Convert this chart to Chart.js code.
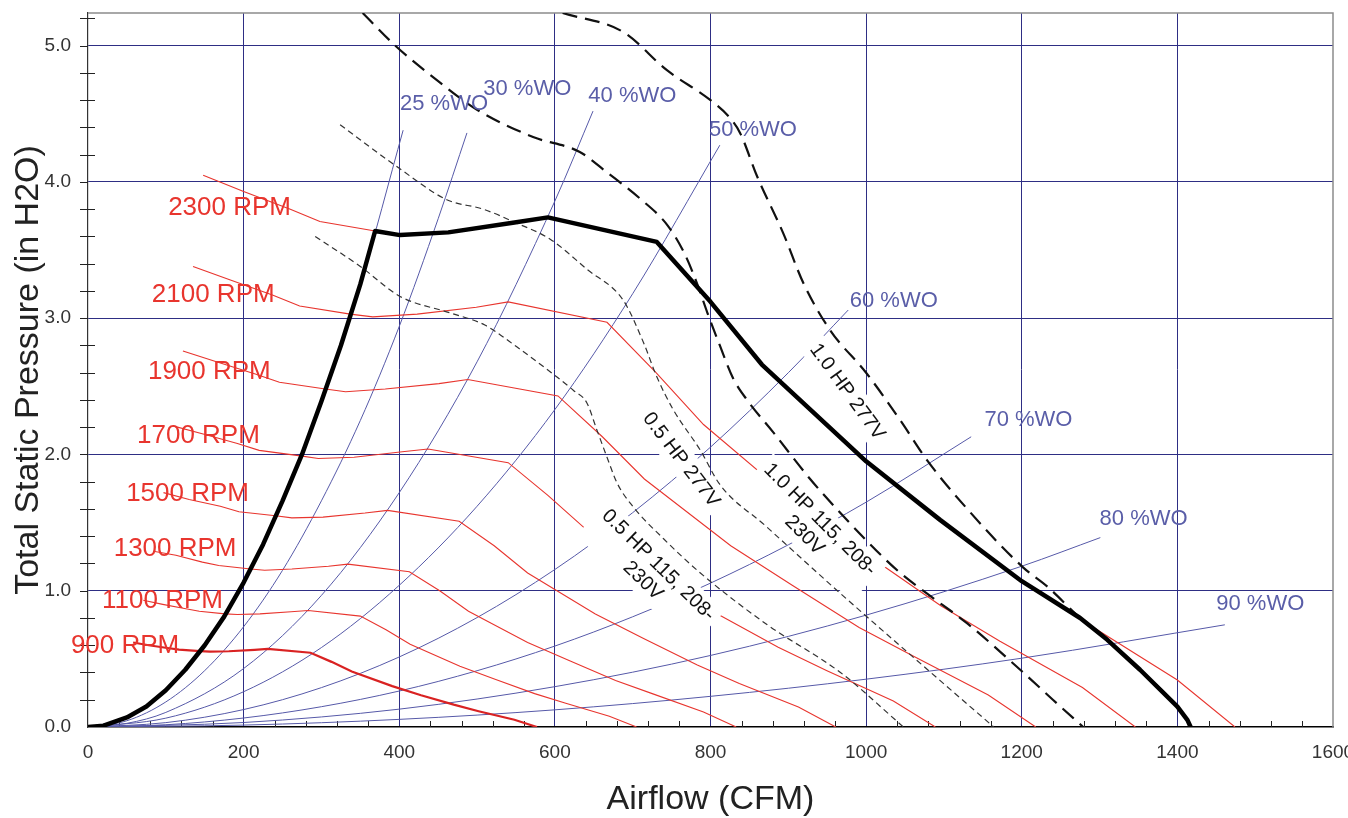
<!DOCTYPE html>
<html>
<head>
<meta charset="utf-8">
<script src="https://cdn.jsdelivr.net/npm/chart.js@4.4.1/dist/chart.umd.min.js"></script>
<style>
  html, body { margin: 0; padding: 0; background: #fff; overflow: hidden; }
  #wrap { position: relative; width: 1348px; height: 818px; }
</style>
</head>
<body>
<div id="wrap"><canvas id="fanChart"></canvas></div>
<script>
// fan curves at constant speed (CFM, in H2O)
const rpm2300X = [148, 200, 260, 298, 369, 401, 463, 546, 591, 731, 800, 866, 1000, 1095, 1200, 1284, 1400, 1474];
const rpm2300Y = [4.05, 3.93, 3.80, 3.71, 3.64, 3.61, 3.63, 3.70, 3.74, 3.56, 3.12, 2.66, 1.95, 1.52, 1.07, 0.76, 0.345, 0];
const rpm2100X = [135, 183, 237, 272, 337, 366, 423, 499, 540, 667, 730, 791, 913, 1000, 1096, 1172, 1278, 1346];
const rpm2100Y = [3.38, 3.28, 3.17, 3.09, 3.03, 3.01, 3.03, 3.08, 3.12, 2.97, 2.60, 2.22, 1.63, 1.27, 0.89, 0.63, 0.29, 0];
const rpm1900X = [122, 165, 215, 246, 305, 331, 382, 451, 488, 604, 661, 715, 826, 905, 991, 1061, 1157, 1218];
const rpm1900Y = [2.76, 2.68, 2.59, 2.53, 2.48, 2.46, 2.48, 2.52, 2.55, 2.43, 2.13, 1.82, 1.33, 1.04, 0.73, 0.52, 0.235, 0];
const rpm1700X = [109, 148, 192, 220, 273, 296, 342, 404, 437, 540, 591, 640, 739, 809, 887, 949, 1035, 1089];
const rpm1700Y = [2.21, 2.15, 2.08, 2.03, 1.99, 1.97, 1.98, 2.02, 2.04, 1.94, 1.70, 1.45, 1.07, 0.83, 0.585, 0.415, 0.19, 0];
const rpm1500X = [97, 130, 170, 194, 241, 262, 302, 356, 385, 477, 522, 565, 652, 714, 783, 837, 913, 961];
const rpm1500Y = [1.72, 1.67, 1.62, 1.58, 1.55, 1.535, 1.54, 1.57, 1.59, 1.51, 1.33, 1.13, 0.83, 0.65, 0.455, 0.32, 0.147, 0];
const rpm1300X = [84, 113, 147, 168, 209, 227, 262, 309, 334, 413, 452, 489, 565, 619, 678, 726, 791, 833];
const rpm1300Y = [1.29, 1.26, 1.21, 1.185, 1.16, 1.15, 1.16, 1.18, 1.195, 1.14, 1.00, 0.85, 0.62, 0.486, 0.342, 0.243, 0.11, 0];
const rpm1100X = [71, 96, 124, 143, 176, 192, 221, 261, 283, 350, 383, 414, 478, 524, 574, 614, 670, 705];
const rpm1100Y = [0.93, 0.90, 0.87, 0.85, 0.83, 0.826, 0.83, 0.846, 0.855, 0.814, 0.714, 0.608, 0.446, 0.348, 0.245, 0.174, 0.079, 0];
const rpm900X = [58, 78, 102, 117, 144, 157, 181, 214, 231, 286, 313, 339, 391, 428, 470, 502, 548, 577];
const rpm900Y = [0.62, 0.60, 0.58, 0.568, 0.557, 0.553, 0.556, 0.566, 0.573, 0.545, 0.478, 0.407, 0.30, 0.233, 0.164, 0.116, 0.053, 0];

// system curves by wide-open percentage
const wo25X = [0, 50, 100, 150, 200, 250, 300, 350, 405];
const wo25Y = [0, 0.067, 0.265, 0.6, 1.06, 1.66, 2.39, 3.25, 4.38];
const wo30X = [0, 50, 100, 150, 200, 250, 300, 350, 400, 450, 487];
const wo30Y = [0, 0.046, 0.184, 0.414, 0.736, 1.15, 1.66, 2.25, 2.94, 3.73, 4.36];
const wo40X = [0, 50, 100, 200, 300, 400, 500, 600, 649];
const wo40Y = [0, 0.027, 0.107, 0.429, 0.966, 1.72, 2.68, 3.86, 4.52];
const wo50X = [0, 100, 200, 300, 400, 500, 600, 700, 812];
const wo50Y = [0, 0.065, 0.259, 0.583, 1.04, 1.62, 2.33, 3.18, 4.27];
const wo60X = [0, 100, 200, 300, 400, 500, 600, 700, 800, 900, 977];
const wo60Y = [0, 0.032, 0.128, 0.289, 0.514, 0.803, 1.156, 1.573, 2.054, 2.60, 3.06];
const wo70X = [0, 100, 200, 300, 400, 500, 600, 700, 800, 900, 1000, 1135];
const wo70Y = [0, 0.0165, 0.066, 0.149, 0.264, 0.413, 0.594, 0.809, 1.056, 1.337, 1.65, 2.13];
const wo80X = [0, 200, 400, 600, 800, 1000, 1200, 1301];
const wo80Y = [0, 0.033, 0.131, 0.296, 0.525, 0.821, 1.18, 1.39];
const wo90X = [0, 200, 400, 600, 800, 1000, 1200, 1461];
const wo90Y = [0, 0.014, 0.056, 0.126, 0.225, 0.351, 0.505, 0.75];

// motor limits
const hp10_208X = [353, 395, 450, 500, 572, 632, 667, 709, 745, 767, 783, 796, 812, 829, 847, 881, 928, 967, 1014, 1044, 1078, 1130, 1198, 1240, 1279];
const hp10_208Y = [5.24, 5.0, 4.74, 4.53, 4.33, 4.22, 4.07, 3.88, 3.68, 3.47, 3.25, 3.04, 2.80, 2.56, 2.40, 2.16, 1.82, 1.57, 1.29, 1.13, 0.98, 0.76, 0.42, 0.2, 0];
const hp10_277X = [610, 688, 744, 800, 825, 838, 860, 893, 920, 954, 1000, 1044, 1078, 1130, 1202, 1233, 1275, 1310, 1352, 1400, 1413, 1417];
const hp10_277Y = [5.24, 5.10, 4.82, 4.60, 4.47, 4.36, 4.04, 3.63, 3.25, 2.91, 2.60, 2.25, 1.96, 1.60, 1.17, 1.03, 0.80, 0.64, 0.42, 0.15, 0.05, 0];
const hp05_277X = [324, 400, 461, 508, 550, 594, 641, 688, 714, 731, 752, 787, 812, 870, 967, 1065, 1164];
const hp05_277Y = [4.42, 4.10, 3.87, 3.80, 3.70, 3.58, 3.36, 3.13, 2.82, 2.57, 2.33, 2.03, 1.78, 1.48, 0.98, 0.49, 0];
const hp05_208X = [292, 350, 401, 465, 510, 551, 600, 624, 641, 654, 667, 680, 700, 740, 787, 873, 967, 1048];
const hp05_208Y = [3.60, 3.38, 3.16, 3.04, 2.95, 2.79, 2.58, 2.47, 2.38, 2.18, 1.98, 1.79, 1.62, 1.38, 1.13, 0.75, 0.40, 0];

// operating envelope
const envelopeX = [0, 20, 50, 75, 100, 125, 150, 175, 200, 225, 250, 275, 300, 325, 350, 369, 401, 463, 546, 591, 731, 800, 866, 1000, 1095, 1200, 1275, 1310, 1352, 1400, 1413, 1417];
const envelopeY = [0, 0.01, 0.07, 0.15, 0.27, 0.42, 0.6, 0.81, 1.06, 1.34, 1.66, 2.0, 2.39, 2.8, 3.25, 3.64, 3.61, 3.63, 3.70, 3.74, 3.56, 3.12, 2.66, 1.95, 1.52, 1.07, 0.8, 0.64, 0.42, 0.15, 0.05, 0];

const rpmLabels = ["2300 RPM", "2100 RPM", "1900 RPM", "1700 RPM", "1500 RPM", "1300 RPM", "1100 RPM", "900 RPM"];
const woLabels = ["25 %WO", "30 %WO", "40 %WO", "50 %WO", "60 %WO", "70 %WO", "80 %WO", "90 %WO"];
const motorLabels = [["1.0 HP 277V"], ["1.0 HP 115, 208-", "230V"], ["0.5 HP 277V"], ["0.5 HP 115, 208-", "230V"]];

// where the labels sit, in data units
const rpmLabelAt = [[103, 3.81], [82, 3.17], [77, 2.61], [63, 2.14], [49, 1.71], [33, 1.31], [18, 0.925], [-22, 0.595]];
const woLabelAt = [[401, 4.57], [508, 4.68], [643, 4.63], [798, 4.38], [979, 3.13], [1152, 2.25], [1300, 1.53], [1450, 0.90]];
const motorLabelAt = [[975.6, 2.46, 54], [930.6, 1.465, 45], [762.2, 1.96, 52.5], [723, 1.13, 44.5]];

const FONT = '"Liberation Sans", Arial, sans-serif';
const RED = "#e8352e";
const BLUE = "#5659a8";
const GRID = "#2e2e84";

const pts = (xs, ys) => xs.map((x, i) => ({ x: x, y: ys[i] }));

function line(xs, ys, color, width, order, extra) {
  return Object.assign({
    data: pts(xs, ys),
    showLine: true,
    borderColor: color,
    backgroundColor: color,
    borderWidth: width,
    pointRadius: 0,
    pointHoverRadius: 0,
    fill: false,
    order: order,
  }, extra || {});
}

const smooth = { cubicInterpolationMode: "monotone" };

const datasets = [
  line(envelopeX, envelopeY, "#000", 4.5, 1, { borderJoinStyle: "round" }),
  line(hp10_277X, hp10_277Y, "#111", 2.2, 3.2, Object.assign({ borderDash: [15, 8] }, smooth)),
  line(hp10_208X, hp10_208Y, "#111", 2.2, 3.3, Object.assign({ borderDash: [15, 8] }, smooth)),
  line(hp05_277X, hp05_277Y, "#333", 1.2, 3.4, Object.assign({ borderDash: [6, 4] }, smooth)),
  line(hp05_208X, hp05_208Y, "#333", 1.2, 3.5, Object.assign({ borderDash: [6, 4], boxLayer: true }, smooth)),

  line(rpm2300X, rpm2300Y, RED, 1.1, 4),
  line(rpm2100X, rpm2100Y, RED, 1.1, 4),
  line(rpm1900X, rpm1900Y, RED, 1.1, 4),
  line(rpm1700X, rpm1700Y, RED, 1.1, 4),
  line(rpm1500X, rpm1500Y, RED, 1.1, 4),
  line(rpm1300X, rpm1300Y, RED, 1.1, 4),
  line(rpm1100X, rpm1100Y, RED, 1.1, 4),
  line(rpm900X, rpm900Y, "#d92222", 2.2, 4),

  line(wo25X, wo25Y, BLUE, 1, 5, smooth),
  line(wo30X, wo30Y, BLUE, 1, 5, smooth),
  line(wo40X, wo40Y, BLUE, 1, 5, smooth),
  line(wo50X, wo50Y, BLUE, 1, 5, smooth),
  line(wo60X, wo60Y, BLUE, 1, 5, smooth),
  line(wo70X, wo70Y, BLUE, 1, 5, smooth),
  line(wo80X, wo80Y, BLUE, 1, 5, smooth),
  line(wo90X, wo90Y, BLUE, 1, 5, smooth),
];

// rotated motor labels on white boxes, drawn before the dashed lines
function drawMotorLabels(chart) {
  const ctx = chart.ctx;
  const xs = chart.scales.x, ys = chart.scales.y;
  motorLabels.forEach((lines, i) => {
    const at = motorLabelAt[i];
    const cx = xs.getPixelForValue(at[0]);
    const cy = ys.getPixelForValue(at[1]);
    ctx.save();
    ctx.translate(cx, cy);
    ctx.rotate(at[2] * Math.PI / 180);
    ctx.font = "20px " + FONT;
    const lh = 22;
    const w = Math.max.apply(null, lines.map(l => ctx.measureText(l).width));
    const h = lines.length * lh;
    ctx.fillStyle = "#fff";
    ctx.fillRect(-w / 2 - 5, -h / 2 - 3, w + 10, h + 6);
    ctx.fillStyle = "#111";
    ctx.textAlign = "center";
    ctx.textBaseline = "middle";
    lines.forEach((l, k) => ctx.fillText(l, 0, -h / 2 + lh * (k + 0.5)));
    ctx.restore();
  });
}

const labelPlugin = {
  id: "curveLabels",
  beforeDatasetDraw(chart, args) {
    if (chart.data.datasets[args.index].boxLayer) drawMotorLabels(chart);
  },
  afterDatasetsDraw(chart) {
    const ctx = chart.ctx;
    const xs = chart.scales.x, ys = chart.scales.y;
    ctx.save();
    ctx.textAlign = "left";
    ctx.textBaseline = "middle";
    ctx.font = "26px " + FONT;
    ctx.fillStyle = RED;
    rpmLabels.forEach((t, i) => {
      ctx.fillText(t, xs.getPixelForValue(rpmLabelAt[i][0]), ys.getPixelForValue(rpmLabelAt[i][1]));
    });
    ctx.font = "22px " + FONT;
    ctx.fillStyle = "#5a5ea8";
    woLabels.forEach((t, i) => {
      ctx.fillText(t, xs.getPixelForValue(woLabelAt[i][0]), ys.getPixelForValue(woLabelAt[i][1]));
    });
    ctx.restore();
  }
};

// frame on top/right and the small ticks
const framePlugin = {
  id: "frame",
  beforeDatasetsDraw(chart) {
    const ctx = chart.ctx;
    const a = chart.chartArea;
    const xs = chart.scales.x, ys = chart.scales.y;
    ctx.save();
    ctx.strokeStyle = "#8c8c8c";
    ctx.lineWidth = 1.5;
    ctx.beginPath();
    ctx.moveTo(a.left, a.top);
    ctx.lineTo(a.right, a.top);
    ctx.lineTo(a.right, a.bottom);
    ctx.stroke();

    ctx.strokeStyle = "#222";
    ctx.lineWidth = 1;
    ctx.beginPath();
    for (let v = 40; v < 1600; v += 40) {
      if (v % 200 === 0) continue;
      const px = Math.round(xs.getPixelForValue(v)) + 0.5;
      ctx.moveTo(px, a.bottom);
      ctx.lineTo(px, a.bottom - 6);
    }
    for (let k = 1; k <= 26; k++) {
      const py = Math.round(ys.getPixelForValue(k * 0.2)) + 0.5;
      ctx.moveTo(a.left - 8, py);
      ctx.lineTo(k % 5 === 0 ? a.left : a.left + 7, py);
    }
    ctx.stroke();
    ctx.restore();
  }
};

new Chart(document.getElementById("fanChart"), {
  type: "scatter",
  data: { datasets: datasets },
  options: {
    responsive: true,
    maintainAspectRatio: false,
    animation: false,
    events: [],
    layout: { padding: { left: 0, top: 13, right: 15, bottom: 0 } },
    plugins: { legend: { display: false }, tooltip: { enabled: false } },
    scales: {
      x: {
        type: "linear",
        min: 0,
        max: 1600,
        ticks: {
          stepSize: 200,
          includeBounds: false,
          padding: 14,
          maxRotation: 0,
          autoSkip: false,
          color: "#333",
          font: { size: 19, family: FONT },
          callback: (v) => String(v),
        },
        grid: {
          drawTicks: false,
          lineWidth: 1,
          color: (c) => (c.tick && (c.tick.value === 0 || c.tick.value === 1600)) ? "rgba(0,0,0,0)" : GRID,
        },
        border: { color: "#000", width: 1.6 },
        title: {
          display: true,
          text: "Airflow (CFM)",
          color: "#222",
          font: { size: 34, family: FONT, lineHeight: 1 },
          padding: { top: 0, bottom: 1 },
        },
        afterFit(s) { s.height = 91; s.paddingLeft = 0; s.paddingRight = 0; },
      },
      y: {
        type: "linear",
        min: 0,
        max: 5.24,
        ticks: {
          stepSize: 1,
          includeBounds: false,
          padding: 17,
          color: "#333",
          font: { size: 19, family: FONT },
          callback: (v) => Number(v).toFixed(1),
        },
        grid: {
          drawTicks: false,
          lineWidth: 1,
          color: (c) => (c.tick && c.tick.value === 0) ? "rgba(0,0,0,0)" : GRID,
        },
        border: { color: "#333", width: 1.2 },
        title: {
          display: true,
          text: "Total Static Pressure (in H2O)",
          color: "#222",
          font: { size: 34, family: FONT, lineHeight: 1 },
          padding: { top: 12, bottom: 0 },
        },
        afterFit(s) { s.width = 88; s.paddingTop = 0; s.paddingBottom = 0; },
      },
    },
  },
  plugins: [framePlugin, labelPlugin],
});
</script>
</body>
</html>
